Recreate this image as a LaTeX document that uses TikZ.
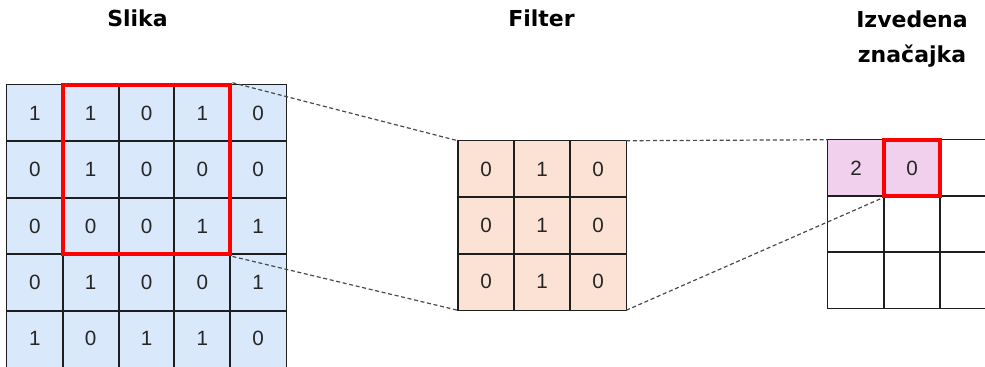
\documentclass[tikz,border=0pt]{standalone}
\usepackage{fontspec}
\setmainfont{Liberation Sans}
\newfontfamily\titlefont{DejaVu Sans}
\usetikzlibrary{fit}
\definecolor{imgblue}{HTML}{DAE8FC}
\definecolor{filtpeach}{HTML}{FBE2D5}
\definecolor{featpink}{HTML}{F0D0EC}
\definecolor{gridline}{HTML}{1E1E1E}
\definecolor{winred}{HTML}{FF0000}
\definecolor{dashgray}{HTML}{4A4A4A}
\tikzset{
  cell/.style={inner sep=0pt,
    minimum width=41.85pt, minimum height=42.3pt,
    font=\fontsize{15.5}{17}\selectfont, text=black!85},
  imgcell/.style={cell, fill=imgblue},
  filtcell/.style={cell, fill=filtpeach},
  featcell/.style={cell, fill=featpink},
  emptycell/.style={cell, fill=white},
  border/.style={draw=gridline, line width=1pt},
  redwin/.style={draw=winred, line width=3pt, inner sep=0pt},
  link/.style={draw=dashgray, line width=0.9pt, dash pattern=on 3pt off 2pt},
  title/.style={font=\titlefont\bfseries\fontsize{16.5}{20}\selectfont, anchor=base, inner sep=0pt}
}
\begin{document}
\begin{tikzpicture}[x=0.75pt, y=-0.75pt]
\clip (0,0) rectangle (985,367);
\fill[white] (0,0) rectangle (985,367);
% titles
\node[title] (tslika) at (137.5,27) {Slika};
\node[title] (tfilter) at (541.5,27) {Filter};
\node[title] (tizv) at (912,28) {Izvedena};
\node[title] (tzn) at (912,63) {značajka};
% input image
\foreach \r/\row in {0/{1,1,0,1,0},1/{0,1,0,0,0},2/{0,0,0,1,1},3/{0,1,0,0,1},4/{1,0,1,1,0}}{
  \foreach \v [count=\c from 0] in \row {
    \node[imgcell] (s-\r-\c) at ({34.9+55.8*\c},{113.2+56.4*\r}) {\v};
  }
}
% filter
\foreach \r in {0,1,2}{
  \foreach \v [count=\c from 0] in {0,1,0} {
    \node[filtcell] (f-\r-\c) at ({486+56*\c},{169.2+56.3*\r}) {\v};
  }
}
% feature map
\node[featcell, minimum width=42pt, minimum height=42pt] (o-0-0) at (856,168) {2};
\node[featcell, minimum width=42pt, minimum height=42pt] (o-0-1) at (912,168) {0};
\node[emptycell, minimum width=42pt, minimum height=42pt] (o-0-2) at (968,168) {};
\foreach \r in {1,2}{
  \foreach \c in {0,1,2}{
    \node[emptycell, minimum width=42pt, minimum height=42pt] (o-\r-\c) at ({856+56*\c},{168+56*\r}) {};
  }
}
% cell borders drawn after all fills
\foreach \r in {0,...,4}{\foreach \c in {0,...,4}{
  \draw[border] (s-\r-\c.north west) rectangle (s-\r-\c.south east);}}
\foreach \r in {0,1,2}{\foreach \c in {0,1,2}{
  \draw[border] (f-\r-\c.north west) rectangle (f-\r-\c.south east);
  \draw[border] (o-\r-\c.north west) rectangle (o-\r-\c.south east);}}
% red windows
\node[redwin, fit=(s-0-1)(s-2-3)] (win) {};
\node[redwin, fit=(o-0-1)] (owin) {};
% dashed links
\draw[link] (win.north east) -- (f-0-0.north west);
\draw[link] (win.south east) -- (f-2-0.south west);
\draw[link] (f-0-2.north east) -- (o-0-0.north west);
\draw[link] (f-2-2.south east) -- (owin.south west);
\end{tikzpicture}
\end{document}
